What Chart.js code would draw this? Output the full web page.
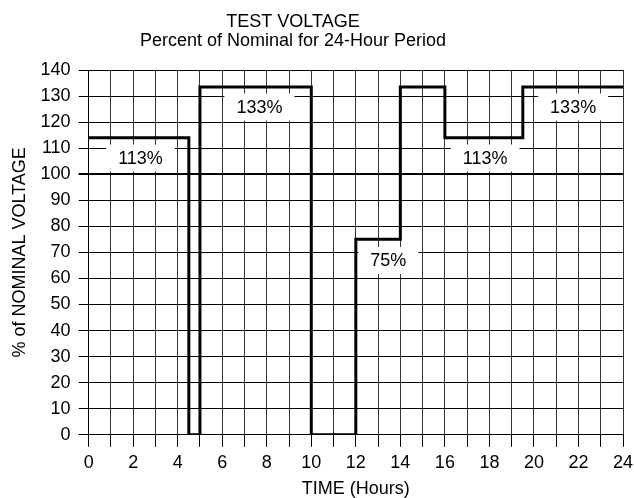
<!DOCTYPE html>
<html>
<head>
<meta charset="utf-8">
<script src="https://cdn.jsdelivr.net/npm/chart.js@4"></script>
<style>
  body { margin: 0; background: #fff; }
  #wrap { width: 634px; height: 498px; }
</style>
</head>
<body>
<div id="wrap"><canvas id="myChart" width="634" height="498"></canvas></div>
<script>
// step points: hour where the level starts, and the level in %
let hours = [0, 4.5, 5, 10, 12, 14, 16, 19.5, 24]
let levels = [114, 0, 133.5, 0, 75, 133.5, 114, 133.5, 133.5]

// level labels
let labelText = ['113%', '133%', '75%', '133%', '113%']
let labelHour = [2.33, 7.67, 13.46, 21.76, 17.81]
let labelLevel = [106.2, 125.8, 66.9, 125.8, 106.2]

let titleLines = ['TEST VOLTAGE', 'Percent of Nominal for 24-Hour Period']

let fontFamily = '"Liberation Sans", Arial, Helvetica, sans-serif'
Chart.defaults.font.family = fontFamily
Chart.defaults.font.size = 18
Chart.defaults.color = '#000'

let points = hours.map((h, i) => ({ x: h, y: levels[i] }))

let levelLabels = {
    id: 'levelLabels',
    afterDatasetsDraw(chart) {
        let c = chart.ctx
        let xs = chart.scales.x
        let ys = chart.scales.y
        c.save()
        c.font = '18px ' + fontFamily
        c.textAlign = 'center'
        c.textBaseline = 'middle'
        labelText.forEach((t, i) => {
            let px = xs.getPixelForValue(labelHour[i])
            let py = ys.getPixelForValue(labelLevel[i])
            let w = c.measureText(t).width + 24
            let h = 27
            c.fillStyle = '#fff'
            c.fillRect(px - w / 2, py - h / 2, w, h)
            c.fillStyle = '#000'
            c.fillText(t, px, py + 1)
        })
        c.restore()
    }
}

let topTitle = {
    id: 'topTitle',
    afterDraw(chart) {
        let c = chart.ctx
        c.save()
        c.font = '18px ' + fontFamily
        c.fillStyle = '#000'
        c.textAlign = 'center'
        c.textBaseline = 'middle'
        c.fillText(titleLines[0], 293, 22)
        c.fillText(titleLines[1], 293, 41)
        c.restore()
    }
}

let ctx = document.getElementById('myChart').getContext('2d')
let myChart = new Chart(ctx, {
    type: 'scatter',
    data: {
        datasets: [{
            data: points,
            showLine: true,
            stepped: true,
            borderColor: '#000',
            borderWidth: 3,
            borderJoinStyle: 'miter',
            pointRadius: 0,
            fill: false
        }]
    },
    options: {
        responsive: false,
        animation: false,
        devicePixelRatio: 1,
        layout: {
            padding: { top: 70, right: 0, left: 9, bottom: -2 }
        },
        plugins: {
            legend: { display: false },
            tooltip: { enabled: false }
        },
        scales: {
            x: {
                type: 'linear',
                min: 0,
                max: 24,
                afterFit: (s) => { s.paddingRight = 11 },
                border: { display: true, color: '#000', width: 1 },
                grid: {
                    color: '#333',
                    lineWidth: 1,
                    tickLength: 12,
                    tickColor: '#000'
                },
                ticks: {
                    stepSize: 1,
                    autoSkip: false,
                    maxRotation: 0,
                    padding: 5,
                    callback: (v) => v % 2 === 0 ? String(v) : ''
                },
                title: {
                    display: true,
                    text: 'TIME (Hours)',
                    font: { size: 18 },
                    padding: { top: 0, bottom: 0 }
                }
            },
            y: {
                min: 0,
                max: 140,
                border: { display: true, color: '#000', width: 1 },
                grid: {
                    color: '#000',
                    lineWidth: (c) => c.tick && c.tick.value === 100 ? 2 : 1,
                    tickLength: 10,
                    tickColor: '#000'
                },
                ticks: {
                    stepSize: 10,
                    padding: 8
                },
                title: {
                    display: true,
                    text: '% of NOMINAL VOLTAGE',
                    font: { size: 18 },
                    padding: { top: 0, bottom: 2 }
                }
            }
        }
    },
    plugins: [levelLabels, topTitle]
})
</script>
</body>
</html>
